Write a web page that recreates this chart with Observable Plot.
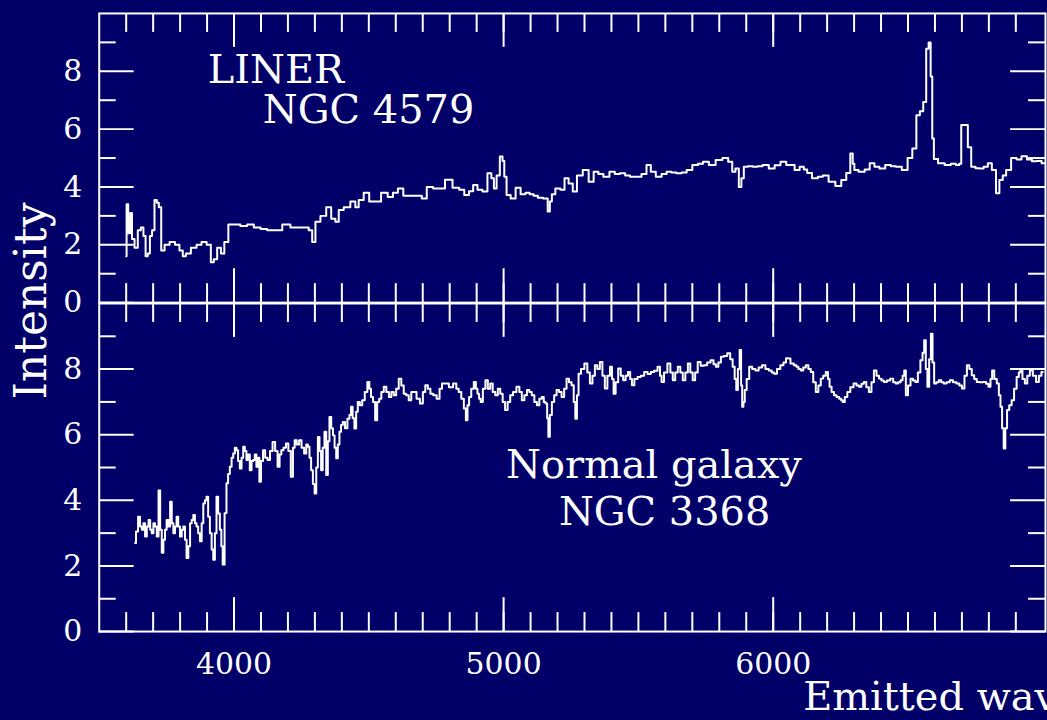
<!DOCTYPE html>
<html><head><meta charset="utf-8">
<script src="https://cdn.jsdelivr.net/npm/d3@7"></script>
<script src="https://cdn.jsdelivr.net/npm/@observablehq/plot@0.6"></script>
<style>
html,body{margin:0;padding:0;background:#000068;overflow:hidden;width:1047px;height:720px}
#chart{position:relative;width:1047px;height:720px;overflow:hidden}
#top,#bottom{position:absolute;left:0}
#top{top:0}
#bottom{top:303px}
#ylab{position:absolute;left:31px;top:301px;transform:translate(-50%,-50%) rotate(-90deg);font-family:"DejaVu Serif";font-size:44px;color:white;white-space:nowrap;line-height:1}
</style></head><body>
<div id="chart"><div id="top"></div><div id="bottom"></div><div id="ylab">Intensity</div></div>
<script>
// ---- Data: LINER NGC 4579 (top panel) ----
const linerWavelength = [3600,3603,3612,3618,3625,3637,3649,3660,3668,3676,3684,3692,3700,3710,3717,3725,3735,3750,3772,3790,3805,3815,3828,3852,3870,3889,3908,3920,3930,3945,3958,3970,3988,4010,4037,4060,4087,4110,4136,4160,4198,4220,4247,4270,4284,4296,4308,4333,4351,4370,4382,4395,4419,4444,4456,4469,4493,4510,4530,4561,4579,4600,4616,4640,4666,4690,4703,4727,4750,4770,4795,4826,4845,4863,4880,4894,4912,4931,4949,4960,4968,4980,4992,5000,5005,5017,5035,5054,5072,5090,5103,5120,5134,5159,5168,5175,5183,5201,5220,5232,5250,5263,5281,5306,5325,5343,5360,5380,5405,5420,5442,5460,5478,5503,5520,5540,5552,5577,5595,5614,5630,5651,5670,5688,5712,5730,5749,5774,5799,5824,5842,5854,5866,5879,5885,5897,5915,5934,5950,5971,5996,6015,6039,6058,6070,6089,6107,6120,6132,6156,6175,6193,6218,6243,6262,6280,6292,6298,6304,6329,6350,6366,6385,6403,6428,6445,6465,6489,6508,6524,6538,6550,6563,6572,6581,6587,6593,6599,6624,6648,6670,6685,6695,6700,6716,6728,6741,6760,6771,6790,6802,6820,6833,6845,6858,6870,6895,6910,6932,6950,6969,6985,7006];
const linerIntensity = [1.6,3.4,2.4,3.1,2.2,1.9,2.5,2.6,2.3,1.6,1.7,2.3,2.5,3.55,3.45,3.3,1.8,2.0,2.1,2.0,1.8,1.6,1.7,1.9,2.0,2.1,2.0,1.4,1.5,1.9,1.7,2.1,2.7,2.7,2.65,2.7,2.6,2.55,2.5,2.5,2.7,2.6,2.6,2.6,2.5,2.1,2.8,3.0,3.3,2.9,2.8,3.2,3.3,3.5,3.3,3.55,3.8,3.5,3.5,3.8,3.65,3.8,3.95,3.7,3.7,3.7,3.6,4.0,3.95,3.95,4.25,3.97,3.9,3.72,3.85,4.07,3.9,3.84,4.47,4.3,3.95,4.4,5.05,4.9,4.35,3.72,3.6,3.97,3.75,3.8,3.75,3.7,3.63,3.6,3.15,3.5,3.75,3.95,3.9,4.3,4.12,3.84,4.4,4.59,4.18,4.53,4.45,4.35,4.53,4.45,4.47,4.4,4.35,4.35,4.45,4.76,4.53,4.35,4.45,4.53,4.5,4.47,4.5,4.59,4.76,4.8,4.87,4.76,4.93,5.0,4.87,4.53,4.64,4.0,4.3,4.7,4.72,4.7,4.72,4.76,4.64,4.75,4.87,4.76,4.76,4.59,4.7,4.6,4.48,4.3,4.35,4.4,4.18,4.03,4.24,4.48,5.16,4.8,4.59,4.53,4.6,4.82,4.7,4.64,4.76,4.72,4.7,4.59,5.0,5.33,6.48,6.62,6.94,8.78,9.0,7.82,5.68,4.97,4.82,4.76,4.8,4.76,4.8,6.14,6.14,5.37,4.7,4.65,4.64,4.7,4.82,4.59,3.78,4.24,4.4,4.59,5.0,4.95,5.06,4.95,4.89,4.9,4.82];

// ---- Data: Normal galaxy NGC 3368 (bottom panel) ----
const normalWavelength = [3633,3640,3648,3655,3661,3667,3673,3680,3686,3692,3698,3704,3710,3717,3723,3729,3735,3741,3747,3753,3760,3766,3772,3778,3784,3790,3796,3803,3809,3815,3821,3827,3834,3840,3846,3852,3858,3864,3870,3877,3883,3889,3895,3901,3907,3914,3920,3926,3932,3938,3944,3951,3955,3961,3969,3975,3981,3988,3994,4000,4006,4012,4018,4025,4031,4037,4043,4049,4055,4062,4068,4074,4080,4086,4092,4096,4104,4111,4120,4129,4138,4148,4157,4166,4172,4179,4188,4197,4206,4215,4222,4228,4237,4246,4255,4265,4271,4277,4283,4289,4296,4302,4308,4314,4320,4326,4332,4339,4345,4351,4357,4364,4370,4376,4382,4388,4394,4400,4407,4416,4425,4431,4437,4443,4450,4456,4462,4471,4480,4490,4499,4505,4511,4520,4527,4535,4542,4551,4560,4570,4579,4588,4597,4606,4616,4625,4634,4643,4653,4662,4671,4683,4696,4705,4714,4724,4733,4745,4758,4767,4776,4789,4805,4820,4829,4838,4848,4857,4863,4869,4875,4885,4894,4900,4906,4912,4918,4928,4937,4946,4955,4964,4974,4983,4992,5001,5010,5020,5029,5041,5054,5063,5072,5082,5091,5100,5109,5119,5128,5137,5146,5152,5159,5164,5168,5175,5183,5192,5201,5210,5220,5229,5238,5247,5257,5263,5269,5275,5281,5293,5306,5315,5325,5334,5343,5352,5362,5371,5380,5390,5399,5405,5411,5420,5430,5439,5448,5457,5466,5473,5479,5491,5503,5515,5528,5540,5552,5565,5577,5583,5589,5601,5614,5623,5632,5641,5651,5660,5669,5679,5688,5697,5706,5715,5725,5737,5749,5761,5774,5783,5792,5801,5811,5823,5836,5845,5854,5860,5866,5872,5879,5883,5887,5892,5897,5906,5916,5928,5940,5952,5965,5977,5990,5999,6008,6020,6033,6043,6052,6058,6070,6083,6089,6098,6107,6116,6126,6135,6144,6153,6163,6172,6181,6190,6200,6206,6212,6221,6230,6240,6249,6255,6261,6270,6280,6292,6304,6314,6323,6332,6341,6350,6360,6369,6378,6388,6397,6406,6415,6428,6440,6450,6459,6468,6477,6483,6489,6495,6505,6514,6523,6532,6541,6551,6557,6563,6569,6575,6582,6588,6594,6600,6610,6619,6628,6637,6649,6661,6673,6686,6695,6705,6714,6723,6732,6741,6750,6760,6772,6785,6794,6803,6809,6815,6825,6834,6840,6846,6852,6858,6864,6871,6880,6889,6898,6908,6914,6920,6929,6938,6947,6957,6969,6981,6990,7000];
const normalIntensity = [2.7,3.05,3.5,3.2,3.1,3.3,2.9,3.2,3.4,3.1,3.0,3.3,3.2,2.9,4.3,3.1,2.4,2.8,3.1,3.4,3.2,3.96,3.3,3.0,3.2,3.5,3.2,2.9,3.1,3.2,2.8,2.24,2.6,3.3,3.4,3.55,3.3,3.2,3.0,2.75,3.3,3.9,4.0,4.11,3.5,3.0,2.5,2.19,3.0,4.11,3.6,3.1,2.6,2.04,3.61,4.52,4.8,5.02,5.3,5.43,5.6,5.53,5.2,4.97,5.3,5.63,5.5,5.23,5.4,4.92,5.2,5.23,5.4,5.02,5.3,4.57,5.2,5.53,5.3,5.23,5.5,5.78,5.5,5.02,5.4,5.53,5.6,5.73,5.5,4.72,5.6,5.83,5.7,5.83,5.6,5.43,5.7,5.63,5.3,4.92,4.5,4.21,5.0,5.93,5.5,4.92,5.6,6.09,4.77,5.8,6.54,6.2,5.98,5.6,5.28,5.7,6.09,6.3,6.39,6.2,6.49,6.6,6.85,6.5,6.19,6.7,7.0,6.9,7.05,7.3,7.61,7.4,7.15,7.0,6.44,7.0,7.1,7.3,7.46,7.3,7.15,7.3,7.2,7.4,7.71,7.5,7.25,7.2,7.05,7.3,7.3,7.1,6.95,7.3,7.51,7.4,7.25,7.2,7.1,7.4,7.56,7.56,7.45,7.56,7.4,7.3,7.1,6.8,6.44,6.9,7.15,7.4,7.61,7.4,7.25,7.1,7.0,7.4,7.66,7.4,7.56,7.3,7.2,7.4,7.25,7.0,6.75,7.0,7.2,7.3,7.46,7.3,7.05,7.2,7.36,7.3,7.2,7.0,6.9,7.1,7.15,7.0,6.95,6.5,5.94,6.6,7.0,7.2,7.36,7.3,7.15,7.4,7.71,7.6,7.51,7.0,6.49,7.2,7.86,8.0,8.17,7.9,7.56,7.8,8.12,8.0,8.22,7.8,7.41,7.8,8.07,7.7,7.25,7.6,8.02,7.8,7.66,7.8,7.91,7.7,7.51,7.7,7.76,7.8,7.91,7.85,7.91,7.95,8.07,7.8,7.61,7.9,8.17,7.9,7.66,7.9,8.07,7.9,7.66,7.9,8.17,7.9,7.66,7.9,8.22,8.1,8.12,8.2,8.27,8.15,8.07,8.2,8.38,8.4,8.48,8.3,8.07,7.7,7.36,8.0,8.58,7.5,6.85,7.0,7.36,7.7,8.07,8.0,7.96,8.05,8.12,8.0,7.96,7.9,7.86,8.0,8.12,8.2,8.33,8.32,8.17,8.12,8.07,8.0,7.96,8.05,8.12,8.0,7.91,7.6,7.3,7.5,7.71,7.8,7.91,7.7,7.46,7.3,7.2,7.15,7.1,7.05,7.0,7.15,7.3,7.45,7.56,7.5,7.46,7.55,7.61,7.45,7.3,7.6,7.96,7.8,7.71,7.65,7.61,7.65,7.71,7.6,7.56,7.6,7.66,7.8,7.96,7.2,7.5,7.71,7.65,7.61,7.9,8.27,8.5,8.88,8.0,7.46,8.3,9.08,8.2,7.56,7.6,7.66,7.6,7.56,7.6,7.66,7.6,7.56,7.5,7.41,7.8,8.12,8.0,7.81,7.7,7.61,7.6,7.61,7.55,7.46,7.7,7.96,7.7,7.56,7.2,6.85,6.2,5.58,6.2,6.75,6.9,7.05,7.4,7.76,7.9,7.96,7.7,7.56,7.8,7.96,7.8,7.61,7.8,7.91];

// ---- Axis ticks and labels ----
const xMajorTicks = [4000, 5000, 6000];
const xMinorTicks = d3.range(3600, 7000, 100);
const yMajorTicks = [0, 2, 4, 6, 8];
const yMinorTicks = [1, 3, 5, 7, 9];
const xAxisTitle = "Emitted wavelength (\u00C5)";
const xAxisTitleStart = 6111;
const topLabels = [
  {text: "LINER", wavelength: 3903, intensity: 8.03},
  {text: "NGC 4579", wavelength: 4107, intensity: 6.64}
];
const bottomLabels = [
  {text: "Normal galaxy", wavelength: 5009, intensity: 5.08},
  {text: "NGC 3368", wavelength: 5205, intensity: 3.65}
];

const liner = linerWavelength.map((w, i) => ({w, v: linerIntensity[i]}));
const normal = normalWavelength.map((w, i) => ({w, v: normalIntensity[i]}));

const FONT = "DejaVu Serif";
const W = 1050, ML = 99, MR = 2;
const PW = W - ML - MR;
const INK = "white";

function panelMarks(data, labels, ph) {
  return [
    Plot.frame({stroke: INK, strokeWidth: 2}),
    Plot.tickX(xMinorTicks, {x: d => d, stroke: INK, strokeWidth: 2, insetBottom: ph - 19}),
    Plot.tickX(xMajorTicks, {x: d => d, stroke: INK, strokeWidth: 2, insetBottom: ph - 34}),
    Plot.tickX(xMinorTicks, {x: d => d, stroke: INK, strokeWidth: 2, insetTop: ph - 19}),
    Plot.tickX(xMajorTicks, {x: d => d, stroke: INK, strokeWidth: 2, insetTop: ph - 34}),
    Plot.tickY(yMinorTicks, {y: d => d, stroke: INK, strokeWidth: 2, insetRight: PW - 17}),
    Plot.tickY(yMajorTicks, {y: d => d, stroke: INK, strokeWidth: 2, insetRight: PW - 35}),
    Plot.tickY(yMinorTicks, {y: d => d, stroke: INK, strokeWidth: 2, insetLeft: PW - 17}),
    Plot.tickY(yMajorTicks, {y: d => d, stroke: INK, strokeWidth: 2, insetLeft: PW - 35}),
    Plot.axisY({ticks: yMajorTicks, tickSize: 0, tickPadding: 17, fontSize: 30, fontFamily: FONT, fill: INK, label: null, tickFormat: d => String(d)}),
    Plot.line(data, {x: "w", y: "v", curve: "step", stroke: INK, strokeWidth: 2}),
    Plot.text(labels, {x: "wavelength", y: "intensity", text: "text", textAnchor: "start", lineAnchor: "middle", fontSize: 40, fontFamily: FONT, fill: INK})
  ];
}

const topPlot = Plot.plot({
  width: W, height: 304, marginLeft: ML, marginRight: MR, marginTop: 13, marginBottom: 1,
  style: {background: "transparent", color: INK, fontFamily: FONT, overflow: "visible"},
  x: {domain: [3500, 7010], axis: null},
  y: {domain: [0, 10]},
  marks: panelMarks(liner, topLabels, 290)
});
document.getElementById("top").appendChild(topPlot);

const bottomPlot = Plot.plot({
  width: W, height: 417, marginLeft: ML, marginRight: MR, marginTop: 0, marginBottom: 88,
  style: {background: "transparent", color: INK, fontFamily: FONT, overflow: "visible"},
  x: {domain: [3500, 7010]},
  y: {domain: [0, 10]},
  marks: [
    ...panelMarks(normal, bottomLabels, 329),
    Plot.axisX({ticks: xMajorTicks, tickSize: 0, tickPadding: 21, fontSize: 30, fontFamily: FONT, fill: INK, label: null, tickFormat: d => String(d)}),
    Plot.text([xAxisTitle], {x: xAxisTitleStart, frameAnchor: "bottom", dy: 79, text: d => d, textAnchor: "start", lineAnchor: "bottom", fontSize: 40, fontFamily: FONT, fill: INK})
  ]
});
document.getElementById("bottom").appendChild(bottomPlot);
</script>
</body></html>
